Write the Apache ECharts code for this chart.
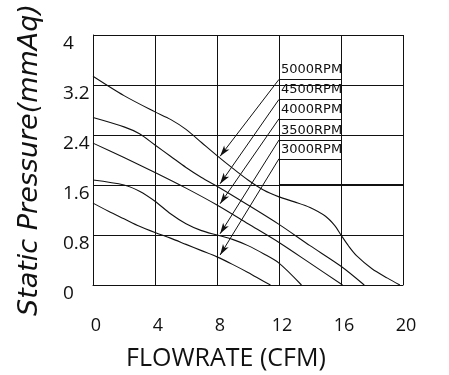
<!DOCTYPE html>
<html>
<head>
<meta charset="utf-8">
<script src="https://cdn.jsdelivr.net/npm/echarts@6/dist/echarts.min.js"></script>
<style>html,body{margin:0;padding:0;background:#fff}#c{width:449px;height:375px}</style>
</head>
<body>
<div id="c"></div>
<script>
const xTicks = [0, 4, 8, 12, 16, 20];
const yTicks = [0, 0.8, 1.6, 2.4, 3.2, 4];
const rpmNames = ['5000RPM', '4500RPM', '4000RPM', '3500RPM', '3000RPM'];
const rpm5000 = [[0,3.34],[2,3.03],[4,2.77],[5,2.65],[6,2.49],[7,2.28],[8,2.07],[9,1.87],[10,1.68],[11,1.52],[12,1.41],[13,1.33],[14,1.24],[15,1.10],[15.6,0.95],[16,0.80],[16.5,0.62],[17,0.47],[18,0.26],[19,0.11],[19.8,0]];
const rpm4500 = [[0,2.68],[2,2.53],[3,2.42],[4,2.24],[5,2.06],[6,1.88],[7,1.72],[8,1.58],[10,1.28],[12,0.97],[14,0.63],[16,0.30],[17.5,0]];
const rpm4000 = [[0,2.27],[2,2.04],[4,1.80],[6,1.55],[8,1.28],[10,0.98],[12,0.68],[14,0.35],[16.1,0]];
const rpm3500 = [[0,1.68],[2,1.60],[3,1.50],[4,1.34],[5,1.14],[6,0.98],[7,0.87],[8,0.80],[9,0.73],[10,0.63],[11,0.50],[12,0.35],[13.45,0]];
const rpm3000 = [[0,1.31],[1,1.18],[2,1.06],[3,0.94],[4,0.84],[5,0.75],[6,0.65],[7,0.55],[8,0.45],[9,0.33],[10,0.20],[11,0.06],[11.45,0]];
const labelLineY = [3.29, 2.97, 2.66, 2.32, 2.02];
const arrowEndY = [2.06, 1.62, 1.30, 0.82, 0.48];
const labelLineX = [12, 16];
const arrowEndX = 8.2;
const thickLine = [[12, 1.6], [20, 1.6]];

const chart = echarts.init(document.getElementById('c'));
const black = '#111';
const underlines = rpmNames.map((n, i) => [
  {coord: [labelLineX[0], labelLineY[i]], name: n, symbol: 'none'},
  {coord: [labelLineX[1], labelLineY[i]], symbol: 'none'}
]);
const arrows = rpmNames.map((n, i) => [
  {coord: [labelLineX[0], labelLineY[i]], symbol: 'none'},
  {coord: [arrowEndX, arrowEndY[i]], symbol: 'arrow', symbolSize: [5, 11]}
]);
function mk(data) {
  return {type: 'line', data: data, showSymbol: false, smooth: 0.3,
    lineStyle: {color: black, width: 1.1}, itemStyle: {color: black}, z: 3};
}
const s5000 = mk(rpm5000);
s5000.markLine = {silent: true, symbol: 'none', label: {show: false},
  lineStyle: {color: black, width: 2, type: 'solid'},
  data: [[{coord: thickLine[0]}, {coord: thickLine[1]}]]};
const s4000 = mk(rpm4000);
s4000.markLine = {silent: true, symbol: 'none',
  lineStyle: {color: black, width: 1, type: 'solid'},
  label: {show: true, position: 'insideStartTop', formatter: p => p.name, color: black,
    fontFamily: 'DejaVu Sans', fontSize: 13, distance: [2, 3]},
  data: underlines};
const s3000 = mk(rpm3000);
s3000.markLine = {silent: true,
  lineStyle: {color: black, width: 1, type: 'solid'},
  label: {show: false},
  data: arrows};

chart.setOption({
  animation: false,
  backgroundColor: '#fff',
  grid: {left: 93, right: 46, top: 35, bottom: 90, containLabel: false, outerBoundsMode: 'none'},
  xAxis: {type: 'value', min: 0, max: 20, interval: 4,
    name: 'FLOWRATE (CFM)', nameLocation: 'middle', nameGap: 61,
    nameTextStyle: {fontFamily: 'Open Sans', fontSize: 25, color: black, padding: [0, 44, 0, 0]},
    axisLine: {show: true, lineStyle: {color: black, width: 1}},
    axisTick: {show: false},
    axisLabel: {margin: 32, fontFamily: 'Open Sans', fontSize: 18, color: black, padding: [0, 0, 0, 6],
      formatter: v => xTicks.includes(v) ? String(v) : ''},
    splitLine: {show: true, lineStyle: {color: black, width: 1}}},
  yAxis: {type: 'value', min: 0, max: 4, interval: 0.8,
    name: 'Static Pressure(mmAq)', nameLocation: 'middle', nameGap: 50,
    nameTextStyle: {fontFamily: 'DejaVu Sans', fontStyle: 'italic', fontSize: 27, color: black},
    axisLine: {show: true, lineStyle: {color: black, width: 1}},
    axisTick: {show: false},
    axisLabel: {margin: 30, align: 'left', verticalAlign: 'top', lineHeight: 18,
      fontFamily: 'Open Sans', fontSize: 19, color: black,
      formatter: v => { const r = Math.round(v * 10) / 10; return yTicks.includes(r) ? String(r) : ''; }},
    splitLine: {show: true, lineStyle: {color: black, width: 1}}},
  series: [s5000, mk(rpm4500), s4000, mk(rpm3500), s3000]
});
</script>
</body>
</html>
